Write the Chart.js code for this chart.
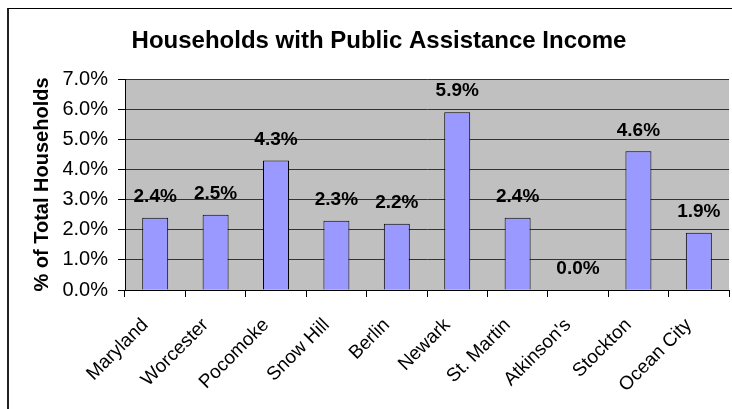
<!DOCTYPE html>
<html>
<head>
<meta charset="utf-8">
<title>Households with Public Assistance Income</title>
<script src="https://cdn.jsdelivr.net/npm/chart.js@4.4.0/dist/chart.umd.min.js"></script>
<style>
    html, body { margin: 0; padding: 0; background: #fff; overflow: hidden; }
    .frame {
        position: absolute; left: 7px; top: 8px;
        width: 760px; height: 440px;
        border-left: 2px solid #222; border-top: 1px solid #000;
    }
    .wrap { position: absolute; left: 0; top: 0; width: 732px; height: 409px; }
</style>
</head>
<body>
<div class="frame"></div>
<div class="wrap"><canvas id="chartAssist" width="732" height="409"></canvas></div>
<script>
// DATA
const kategori = ['Maryland', 'Worcester', 'Pocomoke', 'Snow Hill', 'Berlin',
                  'Newark', 'St. Martin', "Atkinson's", 'Stockton', 'Ocean City'];
const persen = [2.4, 2.5, 4.3, 2.3, 2.2, 5.9, 2.4, 0.0, 4.6, 1.9]; // % of households
const tickY = [0, 1, 2, 3, 4, 5, 6, 7];

const huruf = "'Liberation Sans', Arial, sans-serif";
Chart.defaults.font.family = huruf;
Chart.defaults.color = '#000';

// GRAY PLOT BACKGROUND
const latarPlot = {
    id: 'latarPlot',
    beforeDraw(chart) {
        const { ctx, chartArea: a } = chart;
        ctx.save();
        ctx.fillStyle = '#C0C0C0';
        ctx.fillRect(a.left, a.top, a.right - a.left, a.bottom - a.top);
        ctx.restore();
    }
};

// CHART TITLE (centred on the original, wider chart frame)
const judul = {
    id: 'judul',
    afterDraw(chart) {
        const { ctx } = chart;
        ctx.save();
        ctx.font = 'bold 24px ' + huruf;
        ctx.fillStyle = '#000';
        ctx.textAlign = 'center';
        ctx.textBaseline = 'middle';
        ctx.fillText('Households with Public Assistance Income', 379, 41);
        ctx.restore();
    }
};

// VALUE LABELS ABOVE BARS
const labelNilai = {
    id: 'labelNilai',
    afterDatasetsDraw(chart) {
        const { ctx } = chart;
        const meta = chart.getDatasetMeta(0);
        ctx.save();
        ctx.font = 'bold 19px ' + huruf;
        ctx.fillStyle = '#000';
        ctx.textAlign = 'center';
        ctx.textBaseline = 'middle';
        meta.data.forEach((bar, i) => {
            ctx.fillText(persen[i].toFixed(1) + '%', bar.x, bar.y - 21);
        });
        ctx.restore();
    }
};

const chartAssist = document.getElementById('chartAssist');

new Chart(chartAssist, {
    type: 'bar',
    data: {
        labels: kategori,
        datasets: [{
            data: persen,
            backgroundColor: '#9999FF',
            borderColor: '#000',
            borderWidth: 1,
            categoryPercentage: 1,
            barPercentage: 0.43
        }]
    },
    options: {
        responsive: false,
        animation: false,
        layout: { padding: { left: 8, right: 1, top: 79, bottom: 0 } },
        scales: {
            x: {
                grid: { drawOnChartArea: false, drawTicks: true, tickLength: 7, color: '#000', offset: true },
                border: { color: '#000' },
                ticks: {
                    autoSkip: false,
                    maxRotation: 45,
                    minRotation: 45,
                    padding: 17,
                    labelOffset: -10,
                    font: { size: 19 }
                },
                afterFit: s => { s.height = 119; }
            },
            y: {
                min: 0,
                max: 7,
                afterBuildTicks: axis => { axis.ticks = tickY.map(v => ({ value: v })); },
                grid: { color: '#333', tickColor: '#000', tickLength: 7 },
                border: { color: '#000' },
                ticks: {
                    padding: 10,
                    font: { size: 20 },
                    callback: v => v.toFixed(1) + '%'
                },
                title: {
                    display: true,
                    text: '% of Total Households',
                    font: { size: 20, weight: 'bold' },
                    padding: { top: 22, bottom: 0 }
                },
                afterFit: s => { s.width = 117; }
            }
        },
        plugins: {
            legend: { display: false },
            tooltip: { enabled: false },
            title: { display: false }
        }
    },
    plugins: [latarPlot, labelNilai, judul]
});
</script>
</body>
</html>
